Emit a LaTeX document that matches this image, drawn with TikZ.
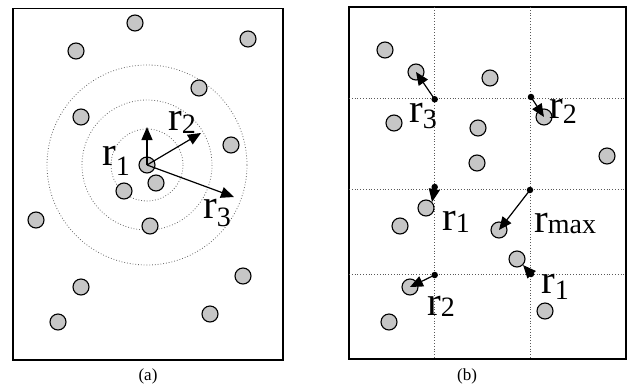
\documentclass[tikz,border=0pt]{standalone}
\usepackage{fontspec}
\setmainfont{Liberation Serif}
\usetikzlibrary{arrows.meta}
\tikzset{
  particle/.style={circle, draw=black, line width=1.1pt, fill=gray!45, minimum size=16pt, inner sep=0pt},
  centredot/.style={circle, fill=black, minimum size=6.5pt, inner sep=0pt},
  ringline/.style={draw=black!60, dotted, line width=0.8pt},
  cellline/.style={draw=black!65, dotted, line width=0.8pt},
  boxline/.style={draw=black, line width=1.6pt},
  arr/.style={-{Triangle[length=13pt,width=11pt]}, line width=1.2pt},
  rlabel/.style={anchor=base west, inner sep=0pt, font=\fontsize{41}{41}\selectfont},
  captext/.style={font=\fontsize{17}{17}\selectfont},
}
\newcommand{\rsub}[2][4pt]{r\raisebox{-#1}{\fontsize{28}{28}\selectfont #2}}
\begin{document}
\begin{tikzpicture}[x=1pt, y=-1pt]
  \useasboundingbox (0,0) rectangle (628,391);
  % (a) rings round one particle
  \draw[boxline] (12.7,8.3) rectangle (283,360);
  \draw[ringline] (147,165) circle (36);
  \draw[ringline] (147,165) circle (65);
  \draw[ringline] (147,165) circle (100);
  \foreach \x/\y [count=\i] in {135/23, 248/39, 76/51, 199/88, 81/117, 231/145, 147/165,
      156/183, 124/191, 36/220, 150/226, 243/276, 81/287, 58/322, 210/314}
    \node[particle] (a\i) at (\x,\y) {};
  \coordinate (ta1) at (147,127);
  \coordinate (ta2) at (201,133);
  \coordinate (ta3) at (234,197);
  \draw[arr] (a7.center) -- (ta1);
  \draw[arr] (a7.center) -- (ta2);
  \draw[arr] (a7.center) -- (ta3);
  \node[rlabel] (la1) at (102,165) {\rsub[10pt]{1}};
  \node[rlabel] (la2) at (168,130) {\rsub[3pt]{2}};
  \node[rlabel] (la3) at (203,218) {\rsub[8pt]{3}};
  \node[captext] (capa) at (148,376) {(a)};
  % (b) grid of cells
  \draw[boxline] (349,7) rectangle (626,359);
  \draw[cellline] (434.7,7) -- (434.7,359);
  \draw[cellline] (530.7,7) -- (530.7,359);
  \draw[cellline] (349,98.3) -- (626,98.3);
  \draw[cellline] (349,189) -- (626,189);
  \draw[cellline] (349,274.3) -- (626,274.3);
  \foreach \x/\y [count=\i] in {385/50, 416/72, 490/78, 394/123, 544/117, 478/128, 607/156,
      477/163, 426/208, 400/226, 499/230, 517/259, 410/287, 545/311, 389/322}
    \node[particle] (b\i) at (\x,\y) {};
  \node[centredot] (c1) at (434.7,99.3) {};
  \node[centredot] (c2) at (531,97) {};
  \node[centredot] (c3) at (434.7,187) {};
  \node[centredot] (c4) at (530,190) {};
  \node[centredot] (c5) at (531,274) {};
  \node[centredot] (c6) at (434.7,275) {};
  \draw[arr] (c1.center) -- (b2.center);
  \draw[arr] (c2.center) -- (b5.center);
  \draw[arr] (c3.center) -- (b9.north east);
  \draw[arr] (c4.center) -- (b11.center);
  \draw[arr] (c5.center) -- (b12.south east);
  \draw[arr] (c6.center) -- (b13.center);
  \node[rlabel] (lb1) at (409,122) {\rsub[6pt]{3}};
  \node[rlabel] (lb2) at (549,118) {\rsub[5pt]{2}};
  \node[rlabel] (lb3) at (442,230) {\rsub[2pt]{1}};
  \node[rlabel] (lb4) at (534,232) {\rsub[1pt]{max}};
  \node[rlabel] (lb5) at (541,293) {\rsub[6pt]{1}};
  \node[rlabel] (lb6) at (427,315) {\rsub[1pt]{2}};
  \node[captext] (capb) at (467,376) {(b)};
\end{tikzpicture}
\end{document}
